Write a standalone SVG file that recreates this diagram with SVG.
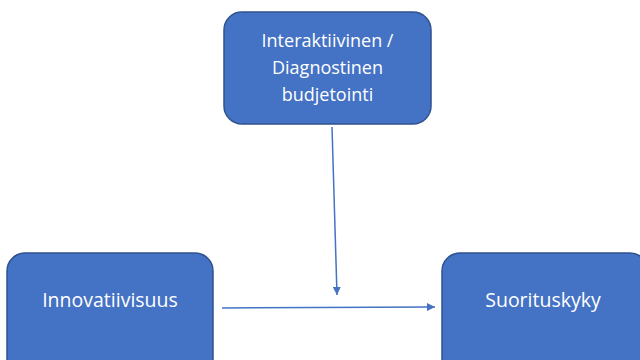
<svg xmlns="http://www.w3.org/2000/svg" width="640" height="360" viewBox="0 0 640 360">
<defs>
<style>
.box{fill:#4472C4;stroke:#2F528F;stroke-width:1.5}
.lbl{fill:#FFFFFF;font-family:"Open Sans","Liberation Sans",sans-serif;font-size:18px;text-anchor:middle}
.big{font-size:19.5px}
.conn{stroke:#4472C4;stroke-width:1.5;fill:none}
</style>
<marker id="arr" viewBox="0 0 10 10" refX="10" refY="5" markerWidth="8" markerHeight="8" markerUnits="userSpaceOnUse" orient="auto">
<path d="M0,0 L10,5 L0,10 z" fill="#4472C4"/>
</marker>
</defs>
<rect width="640" height="360" fill="#FFFFFF"/>
<g id="node-budjetointi">
<rect class="box" x="224" y="12" width="207" height="112" rx="18"/>
<text class="lbl" x="327.5" y="47">Interaktiivinen /</text>
<text class="lbl" x="327.5" y="74">Diagnostinen</text>
<text class="lbl" x="327.5" y="101">budjetointi</text>
</g>
<g id="node-innovatiivisuus">
<rect class="box" x="7" y="253" width="206" height="130" rx="18"/>
<text class="lbl big" x="110" y="307">Innovatiivisuus</text>
</g>
<g id="node-suorituskyky">
<rect class="box" x="442" y="253" width="206" height="130" rx="18"/>
<text class="lbl big" x="543" y="307">Suorituskyky</text>
</g>
<g id="connectors">
<line class="conn" x1="222" y1="308" x2="435" y2="307" marker-end="url(#arr)"/>
<line class="conn" x1="332" y1="127" x2="337" y2="295" marker-end="url(#arr)"/>
</g>
</svg>
